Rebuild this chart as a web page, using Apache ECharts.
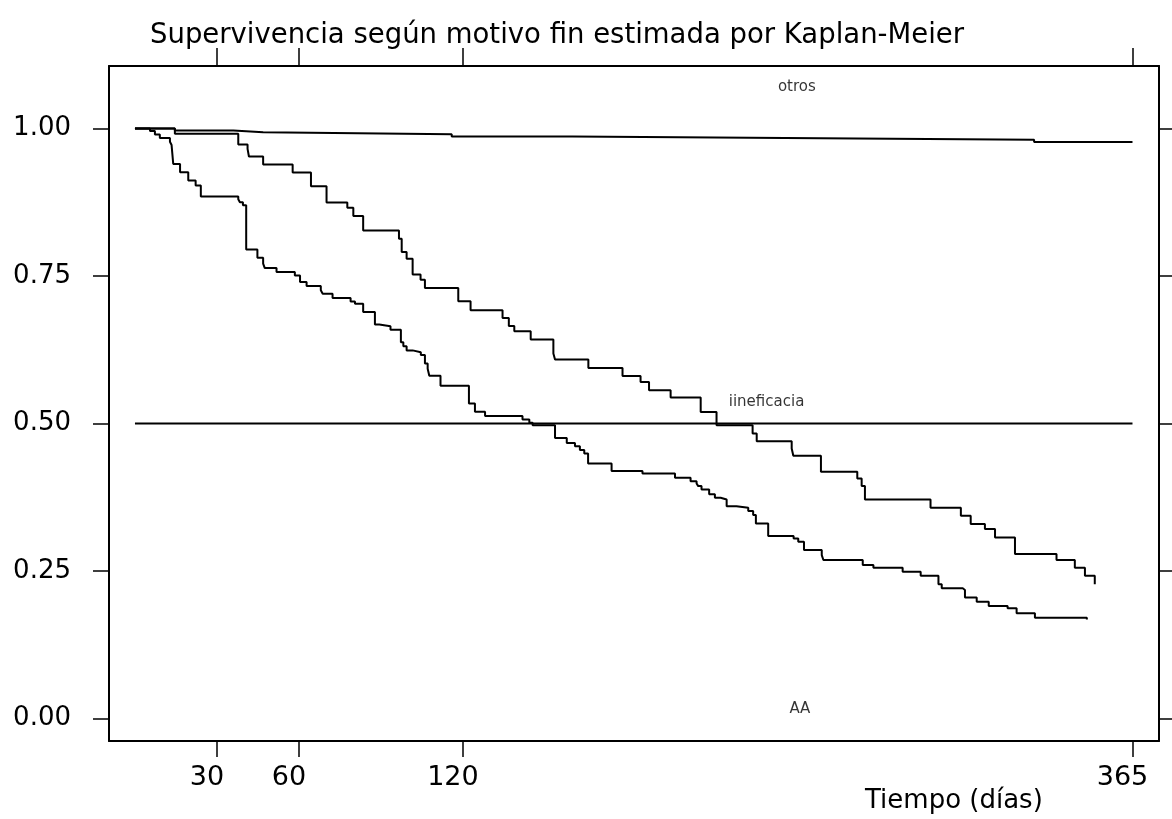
<!DOCTYPE html>
<html>
<head>
<meta charset="utf-8">
<title>Kaplan-Meier</title>
<script src="https://cdn.jsdelivr.net/npm/echarts@6/dist/echarts.min.js"></script>
<style>
    html, body { margin: 0; padding: 0; background: #fff; }
    #chart { width: 1172px; height: 819px; }
</style>
</head>
<body>
<div id="chart"></div>
<script>
// marcas de los ejes
var xTicks = [30, 60, 120, 365];
var yTicks = [0, 0.25, 0.5, 0.75, 1];

// curva superior (otros)
var otrosDias = [0, 14.6, 36.0, 46.9, 115.9, 160, 250.9, 329, 365];
var otrosSurv = [1.0, 0.9966, 0.9937, 0.9904, 0.9865, 0.9836, 0.981, 0.977, 0.977];

// curva del medio (iineficacia)
var inefDias = [0, 14.6, 37.8, 41.2, 41.7, 46.9, 57.7, 64.4, 70.1, 77.7, 79.9, 83.5, 96.6, 97.6, 99.4, 101.6,
    104.5, 106.1, 118.3, 122.8, 134.5, 136.8, 138.8, 144.8, 153.1, 153.7, 165.9, 178.4, 185.0, 188.1, 196.0,
    207.0, 212.8, 226.0, 227.5, 240.3, 240.9, 251.0, 264.3, 265.9, 267.1, 291.1, 302.2, 305.8, 311.0, 314.7,
    322.0, 337.2, 343.9, 347.6, 351.2];
var inefSurv = [1.0, 0.991, 0.973, 0.9656, 0.9526, 0.939, 0.9256, 0.902, 0.8747, 0.8657, 0.8516, 0.8273, 0.8132,
    0.7906, 0.7793, 0.7528, 0.7438, 0.7297, 0.7071, 0.6919, 0.679, 0.6654, 0.6564, 0.6423, 0.6186, 0.6084,
    0.5943, 0.5808, 0.5706, 0.5565, 0.5441, 0.5198, 0.4973, 0.4831, 0.4702, 0.4577, 0.4453, 0.4182, 0.4069,
    0.394, 0.3714, 0.3573, 0.3437, 0.3296, 0.3212, 0.3071, 0.2789, 0.2687, 0.2557, 0.2422, 0.2275];

// curva inferior (AA)
var aaDias = [0, 5.5, 7.3, 9.1, 12.8, 13.4, 14.0, 16.5, 19.5, 22.2, 24.1, 37.8, 38.4, 39.5, 40.7, 44.8, 46.9,
    47.5, 51.8, 58.5, 60.4, 62.8, 68.0, 68.7, 72.3, 78.9, 80.5, 83.5, 87.8, 89.4, 93.5, 97.3, 98.2, 99.4,
    101.6, 104.6, 106.1, 107.1, 107.7, 111.8, 122.2, 124.4, 128.1, 141.8, 144.3, 145.5, 153.7, 158.0, 161.0,
    162.8, 164.4, 165.8, 174.4, 185.7, 197.6, 203.3, 205.5, 206.1, 207.3, 210.1, 212.2, 214.3, 216.5, 220.1,
    224.4, 226.2, 227.2, 231.7, 241.0, 242.7, 244.8, 251.3, 251.9, 266.3, 270.2, 280.9, 287.5, 294.0, 295.2,
    302.9, 303.7, 308.0, 312.4, 319.3, 322.6, 329.3, 348.3];
var aaSurv = [1.0, 0.996, 0.990, 0.984, 0.9775, 0.972, 0.940, 0.926, 0.912, 0.9035, 0.885, 0.880, 0.875, 0.870,
    0.795, 0.781, 0.771, 0.7635, 0.757, 0.751, 0.740, 0.733, 0.726, 0.720, 0.713, 0.707, 0.703, 0.689, 0.668,
    0.665, 0.659, 0.638, 0.631, 0.624, 0.621, 0.616, 0.602, 0.593, 0.581, 0.564, 0.534, 0.520, 0.513, 0.507,
    0.5015, 0.497, 0.4757, 0.467, 0.4617, 0.455, 0.4493, 0.4324, 0.4194, 0.4154, 0.408, 0.4024, 0.3985,
    0.394, 0.3883, 0.3804, 0.3742, 0.3713, 0.36, 0.3573, 0.3516, 0.345, 0.3307, 0.3093, 0.3053, 0.2996,
    0.2856, 0.2771, 0.2687, 0.2602, 0.2557, 0.249, 0.2422, 0.2275, 0.2208, 0.218, 0.205, 0.198, 0.1908,
    0.1869, 0.1784, 0.171, 0.168];

// linea de referencia en 0.5
var refDias = [0, 365];
var refSurv = [0.5, 0.5];

// etiquetas dentro del grafico
var etiqNombres = ['otros', 'iineficacia', 'AA'];
var etiqDias = [242.2, 231.1, 243.3];
var etiqSurv = [1.0695, 0.537, 0.0156];

var fuente = 'DejaVu Sans';

function pares(xs, ys){
    var arr = [];
    for(var i = 0; i < xs.length; i++){
        arr.push([xs[i], ys[i]]);
    }
    return arr;
}

function curva(nombre, xs, ys){
    return {
        name: nombre,
        type: 'line',
        step: 'end',
        symbol: 'none',
        data: pares(xs, ys),
        lineStyle: { color: '#000', width: 2 }
    };
}

var etiqData = [];
for(var i = 0; i < etiqNombres.length; i++){
    etiqData.push({ name: etiqNombres[i], value: [etiqDias[i], etiqSurv[i]] });
}

var ejeX = {
    type: 'value',
    min: -9.5,
    max: 374.7,
    splitLine: { show: false },
    axisLine: { show: true, onZero: false, lineStyle: { color: '#000', width: 2 } }
};
var ejeY = {
    type: 'value',
    min: -0.038,
    max: 1.106,
    splitLine: { show: false },
    axisLine: { show: true, onZero: false, lineStyle: { color: '#000', width: 2 } }
};

var myChart = echarts.init(document.getElementById('chart'));
myChart.setOption({
    animation: false,
    backgroundColor: '#fff',
    title: [{
        text: 'Supervivencia según motivo fin estimada por Kaplan-Meier',
        left: 145,
        top: 17,
        textStyle: { fontFamily: fuente, fontSize: 27.5, fontWeight: 'normal', color: '#000' }
    }, {
        text: 'Tiempo (días)',
        left: 860,
        top: 783,
        textStyle: { fontFamily: fuente, fontSize: 26, fontWeight: 'normal', color: '#000' }
    }],
    grid: { left: 109, top: 66, right: 13, bottom: 78 },
    xAxis: [
        Object.assign({}, ejeX, {
            position: 'bottom',
            axisTick: { show: true, length: 16, customValues: xTicks, lineStyle: { color: '#000', width: 1.5 } },
            axisLabel: {
                show: true, customValues: xTicks, margin: 23, padding: [0, 20, 0, 0],
                fontFamily: fuente, fontSize: 27, color: '#000'
            }
        }),
        Object.assign({}, ejeX, {
            position: 'top',
            axisTick: { show: true, length: 18, customValues: xTicks, lineStyle: { color: '#000', width: 1.5 } },
            axisLabel: { show: false }
        })
    ],
    yAxis: [
        Object.assign({}, ejeY, {
            position: 'left',
            axisTick: { show: true, length: 16, customValues: yTicks, lineStyle: { color: '#000', width: 1.5 } },
            axisLabel: {
                show: true, customValues: yTicks, margin: 38,
                fontFamily: fuente, fontSize: 26, color: '#000',
                formatter: function(v){ return v.toFixed(2); }
            }
        }),
        Object.assign({}, ejeY, {
            position: 'right',
            axisTick: { show: true, length: 16, customValues: yTicks, lineStyle: { color: '#000', width: 1.5 } },
            axisLabel: { show: false }
        })
    ],
    series: [
        curva('otros', otrosDias, otrosSurv),
        curva('iineficacia', inefDias, inefSurv),
        curva('AA', aaDias, aaSurv),
        {
            name: 'ref',
            type: 'line',
            symbol: 'none',
            data: pares(refDias, refSurv),
            lineStyle: { color: '#000', width: 2 }
        },
        {
            name: 'etiquetas',
            type: 'scatter',
            symbolSize: 1,
            itemStyle: { color: 'rgba(0,0,0,0)' },
            data: etiqData,
            label: {
                show: true,
                position: 'inside',
                formatter: '{b}',
                fontFamily: fuente,
                fontSize: 15,
                color: '#000',
                textBorderWidth: 0
            }
        }
    ]
});
</script>
</body>
</html>
